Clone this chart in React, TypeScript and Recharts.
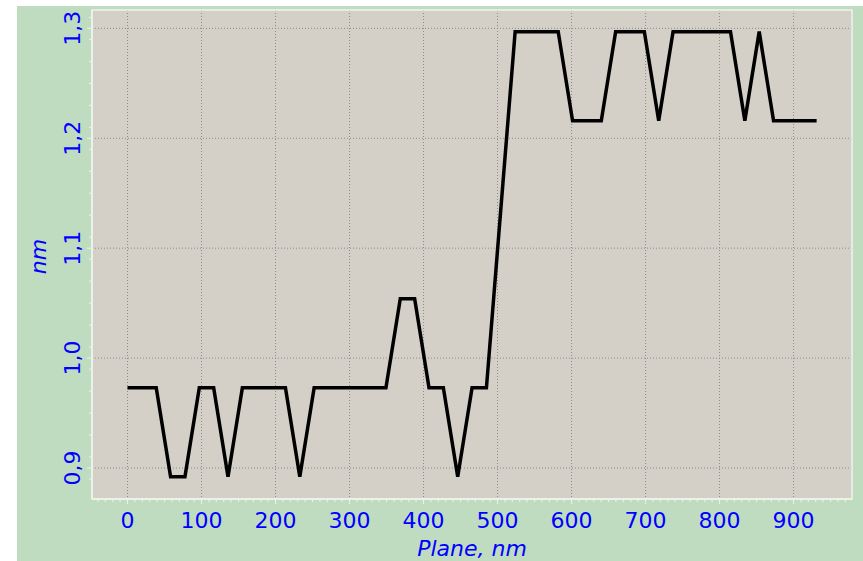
import React from "react";
import {
  LineChart,
  Line,
  XAxis,
  YAxis,
  CartesianGrid,
  ReferenceArea,
} from "recharts";

// Profile sampled along the plane, ~19.4 nm step
const planeNm = [
  0, 19.4, 38.8, 58.2, 77.6, 97, 116.4, 135.8, 155.2, 174.6, 194, 213.4, 232.8,
  252.2, 271.6, 291, 310.4, 329.8, 349.2, 368.6, 388, 407.4, 426.8, 446.2,
  465.6, 485, 504.4, 523.8, 543.2, 562.6, 582, 601.4, 620.8, 640.2, 659.6, 679,
  698.4, 717.8, 737.2, 756.6, 776, 795.4, 814.8, 834.2, 853.6, 873, 892.4,
  911.8, 931.2,
];

const heightNm = [
  0.973, 0.973, 0.973, 0.892, 0.892, 0.973, 0.973, 0.892, 0.973, 0.973, 0.973,
  0.973, 0.892, 0.973, 0.973, 0.973, 0.973, 0.973, 0.973, 1.054, 1.054, 0.973,
  0.973, 0.892, 0.973, 0.973, 1.135, 1.297, 1.297, 1.297, 1.297, 1.216, 1.216,
  1.216, 1.297, 1.297, 1.297, 1.216, 1.297, 1.297, 1.297, 1.297, 1.297, 1.216,
  1.297, 1.216, 1.216, 1.216, 1.216,
];

const xMajorTicks = [0, 100, 200, 300, 400, 500, 600, 700, 800, 900];
const yMajorTicks = [0.9, 1.0, 1.1, 1.2, 1.3];

const X_DOMAIN: [number, number] = [-48, 979];
const Y_DOMAIN: [number, number] = [0.8718, 1.3167];

const BLUE = "#0000ff";
const FRAME = "#eef3ea";
const FONT = "'DejaVu Sans', Verdana, sans-serif";

const data = planeNm.map((x, i) => ({ x, h: heightNm[i] }));

// minor ticks: every 10 nm on x, odd hundredths on y (plus the labelled ones)
const xMinorTicks: number[] = [];
for (let k = -4; k <= 97; k++) xMinorTicks.push(k * 10);
const yMinorTicks: number[] = [];
for (let k = 88; k <= 131; k++) {
  if (k % 2 === 1 || k % 10 === 0) yMinorTicks.push(k / 100);
}

function XTick({ x, y, payload }: any) {
  const v = payload.value as number;
  const major = v % 100 === 0;
  return (
    <g>
      <line x1={x} y1={y} x2={x} y2={y + (major ? 5 : 3)} stroke={FRAME} />
      {major && (
        <text
          x={x}
          y={y + 29}
          textAnchor="middle"
          fill={BLUE}
          fontSize={22}
          fontFamily={FONT}
        >
          {v}
        </text>
      )}
    </g>
  );
}

function YTick({ x, y, payload }: any) {
  const v = payload.value as number;
  const major = Math.round(v * 100) % 10 === 0;
  return (
    <g>
      <line x1={x} y1={y} x2={x - (major ? 5 : 3)} y2={y} stroke={FRAME} />
      {major && (
        <text
          x={0}
          y={0}
          transform={`translate(${x - 12},${y}) rotate(-90)`}
          textAnchor="middle"
          fill={BLUE}
          fontSize={22}
          fontFamily={FONT}
        >
          {v.toFixed(1).replace(".", ",")}
        </text>
      )}
    </g>
  );
}

export default function App() {
  return (
    <div
      style={{
        position: "absolute",
        left: 0,
        top: 0,
        width: 863,
        height: 561,
        background: "#ffffff",
        overflow: "hidden",
      }}
    >
      <div
        style={{
          position: "absolute",
          left: 17,
          top: 6,
          right: 0,
          bottom: 0,
          background: "#c0dcc0",
        }}
      />
      <div style={{ position: "absolute", left: 0, top: 0 }}>
        <LineChart
          width={863}
          height={561}
          data={data}
          margin={{ top: 10, right: 11, bottom: 0, left: 0 }}
        >
          <CartesianGrid
            fill="#d4d0c8"
            fillOpacity={1}
            stroke="#8c8c8c"
            strokeDasharray="1 2"
            verticalValues={xMajorTicks}
            horizontalValues={yMajorTicks}
          />
          <XAxis
            type="number"
            dataKey="x"
            domain={X_DOMAIN}
            allowDataOverflow
            ticks={xMinorTicks}
            interval={0}
            height={62}
            tickSize={0}
            tickMargin={0}
            tickLine={false}
            axisLine={{ stroke: FRAME, strokeWidth: 1.5 }}
            tick={<XTick />}
            label={(props: any) => {
              const vb = props.viewBox;
              return (
                <text
                  x={vb.x + vb.width / 2}
                  y={vb.y + 57}
                  textAnchor="middle"
                  fill={BLUE}
                  fontSize={22}
                  fontStyle="italic"
                  fontFamily={FONT}
                >
                  Plane, nm
                </text>
              );
            }}
          />
          <YAxis
            type="number"
            domain={Y_DOMAIN}
            allowDataOverflow
            ticks={yMinorTicks}
            interval={0}
            width={92}
            tickSize={0}
            tickMargin={0}
            tickLine={false}
            axisLine={{ stroke: FRAME, strokeWidth: 1.5 }}
            tick={<YTick />}
            label={(props: any) => {
              const vb = props.viewBox;
              const cy = vb.y + vb.height / 2 + 2;
              return (
                <text
                  x={0}
                  y={0}
                  transform={`translate(46,${cy}) rotate(-90)`}
                  textAnchor="middle"
                  fill={BLUE}
                  fontSize={22}
                  fontStyle="italic"
                  fontFamily={FONT}
                >
                  nm
                </text>
              );
            }}
          />
          <ReferenceArea
            x1={X_DOMAIN[0]}
            x2={X_DOMAIN[1]}
            y1={Y_DOMAIN[0]}
            y2={Y_DOMAIN[1]}
            fill="none"
            fillOpacity={0}
            stroke={FRAME}
            strokeWidth={1.5}
          />
          <Line
            type="linear"
            dataKey="h"
            stroke="#000000"
            strokeWidth={3.5}
            dot={false}
            activeDot={false}
            isAnimationActive={false}
          />
        </LineChart>
      </div>
    </div>
  );
}
